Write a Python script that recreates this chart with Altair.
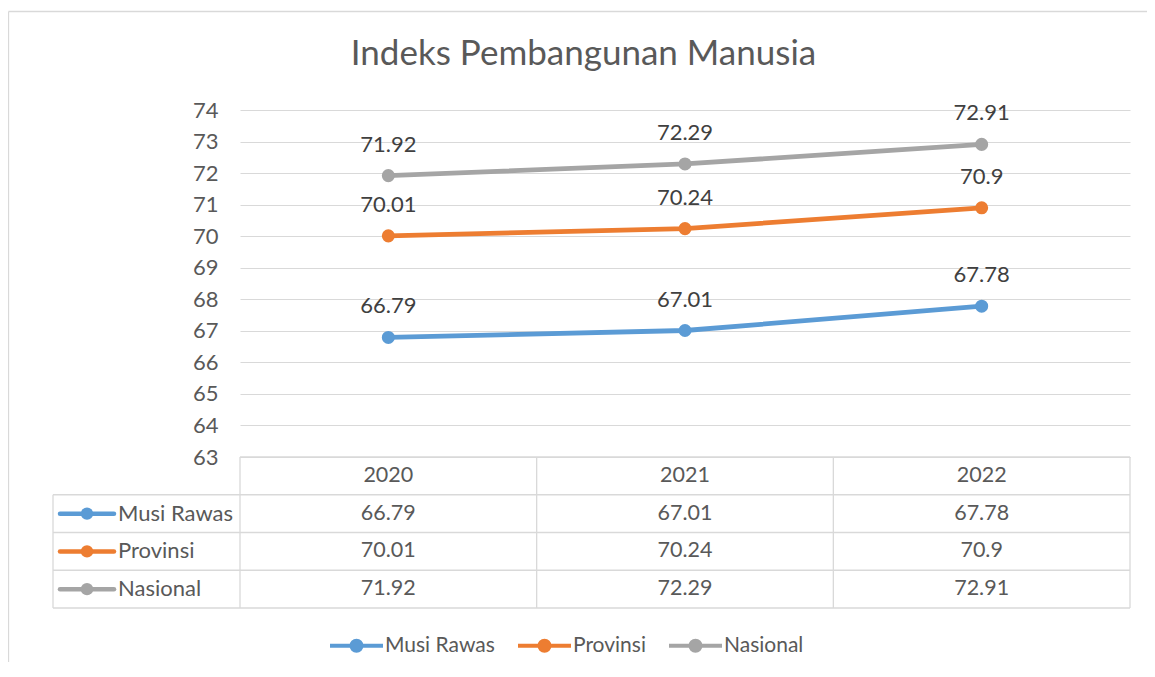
import altair as alt
import pandas as pd

# ---------------- data ----------------
years = ["2020", "2021", "2022"]
series = ["Musi Rawas", "Provinsi", "Nasional"]
musi_rawas = [66.79, 67.01, 67.78]
provinsi = [70.01, 70.24, 70.9]
nasional = [71.92, 72.29, 72.91]
y_ticks = list(range(63, 75))
title_text = "Indeks Pembangunan Manusia"
colors = ["#5B9BD5", "#ED7D31", "#A5A5A5"]

values_by_series = {"Musi Rawas": musi_rawas, "Provinsi": provinsi, "Nasional": nasional}
rows = []
for s in series:
    for yr, v in zip(years, values_by_series[s]):
        rows.append({"year": yr, "series": s, "value": v, "label": str(v), "row": s})
df = pd.DataFrame(rows)
header_df = pd.DataFrame({"year": years, "row": ["header"] * 3, "label": years})
series_df = pd.DataFrame({"series": series, "row": series})

# ---------------- layout ----------------
FONT = "Lato"
W, H = 890, 347
TABLE_TOP, TABLE_BOTTOM = 347, 498
LABEL_COL = 187
ROW_H = (TABLE_BOTTOM - TABLE_TOP) / 4
STEP = W / 3
GRID = "#D9D9D9"
TEXT = "#595959"

cscale = alt.Scale(domain=series, range=colors)
xscale = alt.Scale(type="point", padding=0.5, domain=years)
row_scale = alt.Scale(type="point", domain=["header"] + series,
                      range=[TABLE_TOP, TABLE_BOTTOM], padding=0.5)

x_enc = alt.X("year:O", scale=xscale, axis=None)
y_enc = alt.Y("value:Q",
              scale=alt.Scale(domain=[63, 74], nice=False, zero=False),
              axis=alt.Axis(values=y_ticks, grid=True, gridColor=GRID, gridWidth=1,
                            domain=False, ticks=False, labelPadding=22,
                            labelFont=FONT, labelFontSize=22, labelColor=TEXT,
                            title=None))

# legend symbol: a line with a solid dot (two concentric stroked rings fill the dot)
legend_path = ("M-1,0H1"
               "M0.075,0A0.075,0.075,0,1,1,-0.075,0A0.075,0.075,0,1,1,0.075,0"
               "M0.19,0A0.19,0.19,0,1,1,-0.19,0A0.19,0.19,0,1,1,0.19,0")
leg = alt.Legend(orient="none", legendX=88, legendY=507, direction="horizontal",
                 title=None, symbolType=legend_path, symbolSize=2809,
                 symbolStrokeWidth=4, symbolOpacity=1, labelFont=FONT,
                 labelFontSize=21, labelColor=TEXT, labelOffset=0,
                 columnPadding=15, padding=0)

base = alt.Chart(df)
lines = base.mark_line(strokeWidth=4.8, strokeCap="round", strokeJoin="round").encode(
    x=x_enc, y=y_enc, color=alt.Color("series:N", scale=cscale, legend=leg))
points = base.mark_point(filled=True, size=170, opacity=1).encode(
    x=x_enc, y=y_enc, color=alt.Color("series:N", scale=cscale, legend=None))
labels = base.mark_text(dy=-31, fontSize=22, font=FONT, color="#404040",
                        baseline="middle").encode(x=x_enc, y=y_enc, text="label:N")
plot = alt.layer(lines, points, labels)

# ---------------- data table ----------------
tx = alt.X("year:O", scale=xscale, axis=None)
ty = alt.Y("row:N", scale=row_scale, axis=None)
cells = alt.Chart(df).mark_text(fontSize=21.5, font=FONT, color=TEXT, baseline="middle").encode(
    x=tx, y=ty, text="label:N")
heads = alt.Chart(header_df).mark_text(fontSize=21.5, font=FONT, color=TEXT, baseline="middle").encode(
    x=tx, y=ty, text="label:N")
row_labels = alt.Chart(series_df).mark_text(fontSize=22, font=FONT, color=TEXT,
                                            align="left", baseline="middle",
                                            x=-LABEL_COL + 65).encode(y=ty, text="series:N")
sym_lines = alt.Chart(series_df).mark_rule(strokeWidth=4.5, strokeCap="round").encode(
    x=alt.value(-LABEL_COL + 7), x2=alt.value(-LABEL_COL + 61), y=ty,
    color=alt.Color("series:N", scale=cscale, legend=None))
sym_pts = alt.Chart(series_df).mark_point(filled=True, size=155, opacity=1).encode(
    x=alt.value(-LABEL_COL + 34), y=ty,
    color=alt.Color("series:N", scale=cscale, legend=None))

# table borders + outer chart frame (layout lines, pixel space)
segs = []
segs.append({"x": 0, "x2": W, "y": TABLE_TOP, "y2": TABLE_TOP})
for k in range(1, 5):
    yy = TABLE_TOP + k * ROW_H
    segs.append({"x": -LABEL_COL, "x2": W, "y": yy, "y2": yy})
for k in range(0, 4):
    xx = k * STEP
    segs.append({"x": xx, "x2": xx, "y": TABLE_TOP, "y2": TABLE_BOTTOM})
segs.append({"x": -LABEL_COL, "x2": -LABEL_COL, "y": TABLE_TOP + ROW_H, "y2": TABLE_BOTTOM})
segs.append({"x": -231.5, "x2": 910, "y": -98.5, "y2": -98.5})
segs.append({"x": -231.5, "x2": -231.5, "y": -98.5, "y2": 560})
seg_df = pd.DataFrame(segs)
borders = alt.Chart(seg_df).mark_rule(color=GRID, strokeWidth=1.3).encode(
    x=alt.X("x:Q", scale=None, axis=None), x2="x2:Q",
    y=alt.Y("y:Q", scale=None, axis=None), y2="y2:Q")

title = alt.Chart(pd.DataFrame({"t": [title_text]})).mark_text(
    font=FONT, fontSize=35, color=TEXT, align="center", baseline="alphabetic").encode(
    x=alt.value(343.5), y=alt.value(-45), text="t:N")

chart = alt.layer(borders, plot, cells, heads, row_labels, sym_lines, sym_pts, title).resolve_scale(
    x="independent", y="independent").properties(
    width=W, height=H,
    autosize=alt.AutoSizeParams(type="none"),
    padding={"left": 232, "top": 102, "right": 17, "bottom": 205},
).configure_view(stroke=None)

chart.save("out.html", embed_options={"renderer": "svg", "actions": False})
